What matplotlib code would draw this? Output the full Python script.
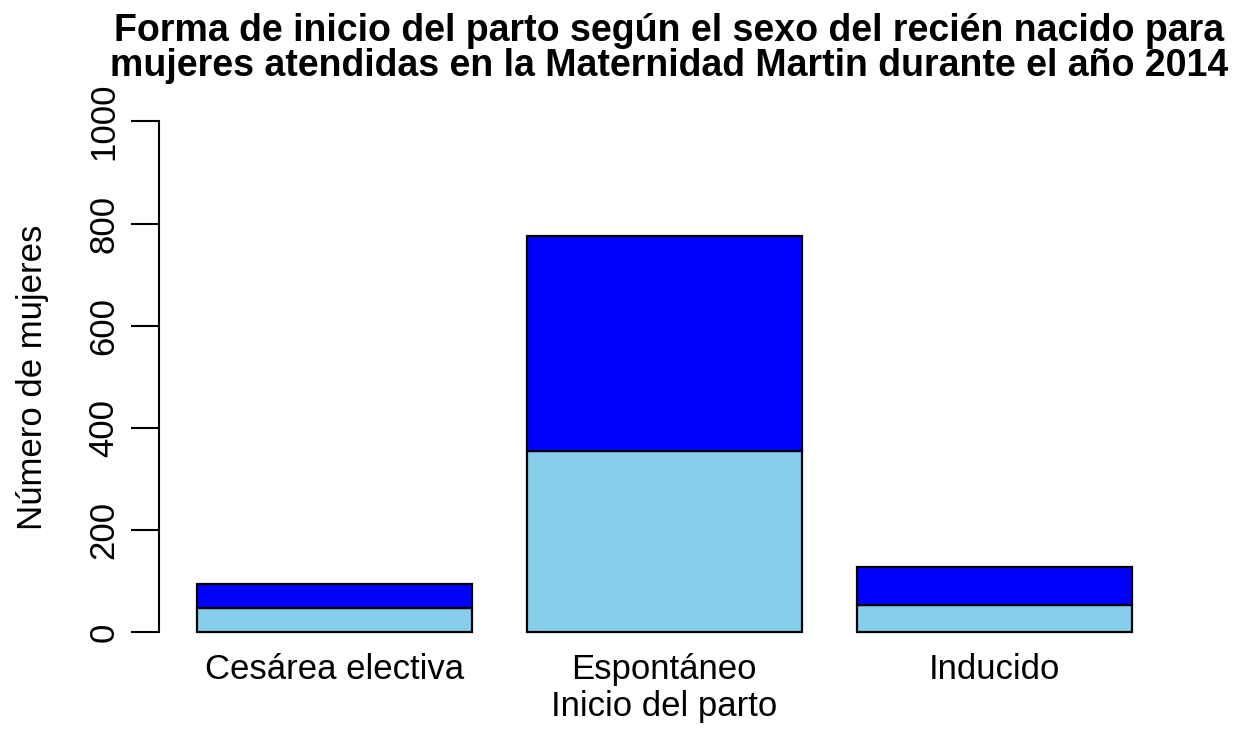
import numpy as np
import matplotlib
matplotlib.use("Agg")
import matplotlib.pyplot as plt

plt.rcParams['font.family'] = ['Liberation Sans', 'DejaVu Sans']

categorias = ["Cesárea electiva", "Espontáneo", "Inducido"]
# lower segment (skyblue) and upper segment (blue)
sexo_a = [47, 354, 53]
sexo_b = [48, 422, 74]
y_ticks = [0, 200, 400, 600, 800, 1000]

fig = plt.figure(figsize=(12.39, 7.46), dpi=100)
ax = fig.add_axes([0.1286, 0.125, 0.8149, 0.7397])

# R-style barplot positions: width 1, space 0.2
x = 0.7 + 1.2 * np.arange(len(categorias))
ax.bar(x, sexo_a, width=1.0, color='#87CEEB', edgecolor='black', linewidth=1.6)
ax.bar(x, sexo_b, width=1.0, bottom=sexo_a, color='#0000FF', edgecolor='black', linewidth=1.6)

ax.set_xlim(0.064, 3.736)
ax.set_ylim(-40, 1040)

for side in ['top', 'right', 'bottom']:
    ax.spines[side].set_visible(False)
ax.spines['left'].set_bounds(0, 1000)
ax.spines['left'].set_linewidth(1.5)

ax.set_yticks(y_ticks)
ax.set_yticklabels([str(v) for v in y_ticks], rotation=90, va='center', fontsize=25)
ax.tick_params(axis='y', length=20, width=1.5, pad=8)
ax.set_xticks(x)
ax.set_xticklabels(categorias, fontsize=25)
ax.tick_params(axis='x', length=0, pad=0)

ax.set_xlabel("Inicio del parto", fontsize=25, labelpad=3)
ax.set_ylabel("Número de mujeres", fontsize=25, labelpad=28)
ax.set_title("Forma de inicio del parto según el sexo del recién nacido para\n"
             "mujeres atendidas en la Maternidad Martin durante el año 2014",
             fontsize=27, fontweight='bold', linespacing=0.95, pad=18, x=0.505)

fig.savefig("out.png", dpi=100)
